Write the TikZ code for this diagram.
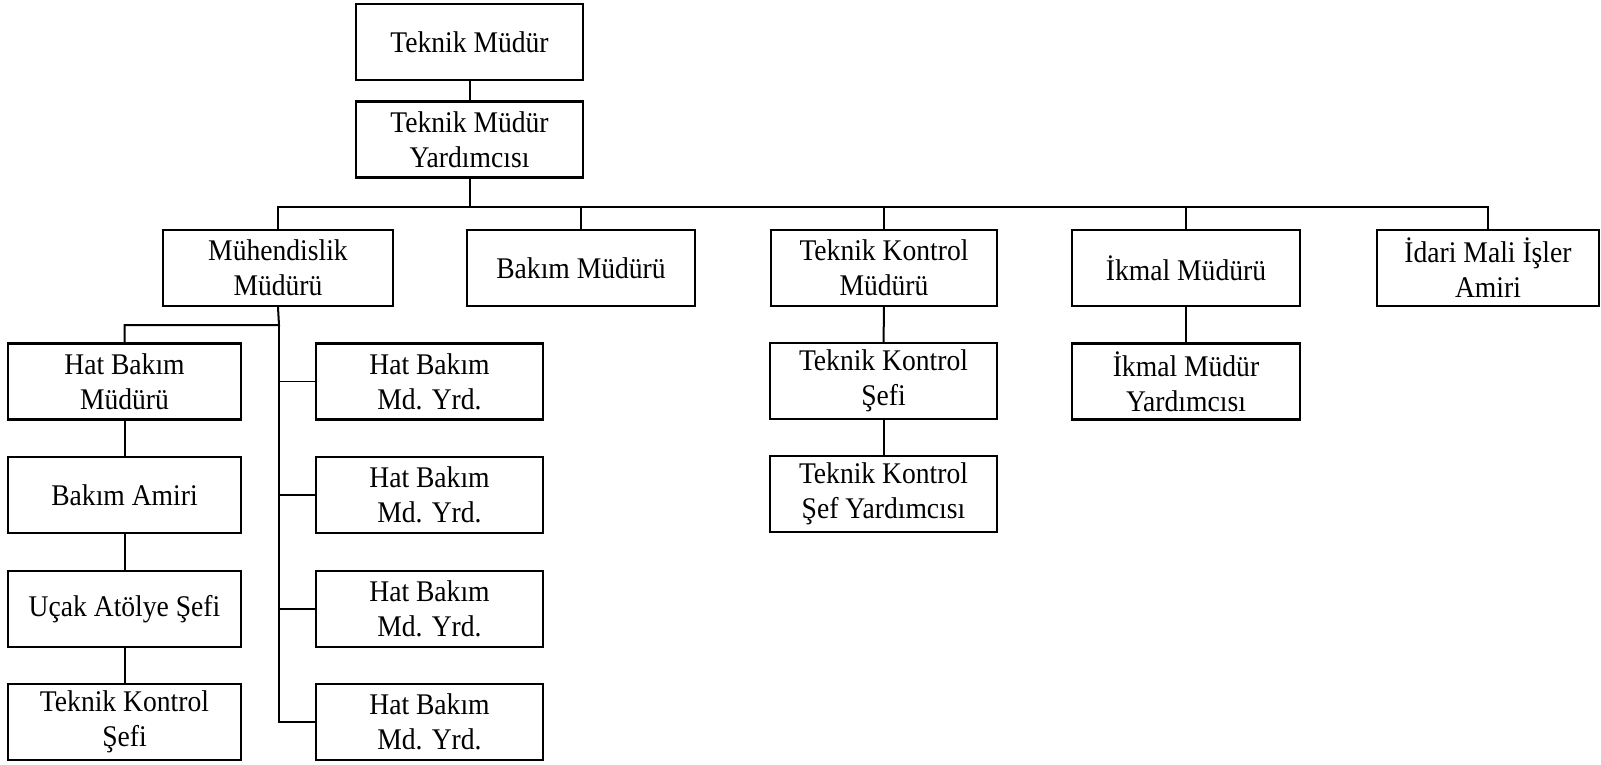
\documentclass[tikz,border=0pt]{standalone}
\usepackage{fontspec}
\setmainfont{Liberation Serif}[FakeStretch=0.92]
\begin{document}
\begin{tikzpicture}[x={(1pt,0)},y={(0,-1pt)},
  box/.style={draw=black,line width=2.3pt,align=center,inner sep=0pt,
    minimum height=76pt,font=\fontsize{30}{35}\selectfont},
  link/.style={draw=black,line width=2pt},
  thinlink/.style={draw=black,line width=1.4pt}]
\useasboundingbox (0,0) rectangle (1601,764);
% top of the hierarchy
\node[box,minimum width=227pt] (tm)  at (469.5,42)   {Teknik Müdür};
\node[box,minimum width=227pt] (tmy) at (469.5,139.5){Teknik Müdür\\Yardımcısı};
% department heads
\node[box,minimum width=230pt] (muh) at (278,268)  {Mühendislik\\Müdürü};
\node[box,minimum width=228pt] (bak) at (581,268)  {Bakım Müdürü};
\node[box,minimum width=226pt] (tkm) at (884,268)  {Teknik Kontrol\\Müdürü};
\node[box,minimum width=228pt] (ikm) at (1186,268) {İkmal Müdürü};
\node[box,minimum width=222pt] (idr) at (1488,268) {İdari Mali İşler\\Amiri};
% engineering: left chain
\node[box,minimum width=233pt] (hbm) at (124.5,381.5) {Hat Bakım\\Müdürü};
\node[box,minimum width=233pt] (ba)  at (124.5,495)   {Bakım Amiri};
\node[box,minimum width=233pt] (uas) at (124.5,609)   {Uçak Atölye Şefi};
\node[box,minimum width=233pt] (tks1) at (124.5,722)  {Teknik Kontrol\\Şefi};
% engineering: deputies
\node[box,minimum width=227pt] (y1) at (429.5,381.5) {Hat Bakım\\Md. Yrd.};
\node[box,minimum width=227pt] (y2) at (429.5,495)   {Hat Bakım\\Md. Yrd.};
\node[box,minimum width=227pt] (y3) at (429.5,609)   {Hat Bakım\\Md. Yrd.};
\node[box,minimum width=227pt] (y4) at (429.5,722)   {Hat Bakım\\Md. Yrd.};
% technical control chain
\node[box,minimum width=227pt] (tks) at (883.5,381)  {Teknik Kontrol\\Şefi};
\node[box,minimum width=227pt] (tksy) at (883.5,494) {Teknik Kontrol\\Şef Yardımcısı};
% supply chain
\node[box,minimum width=228pt] (iky) at (1186,381.5) {İkmal Müdür\\Yardımcısı};
% bus and junction points
\coordinate (bus) at (468,207);
\coordinate (mjoin) at (279,325);
% connectors
\draw[link] (tm) -- (tmy);
\draw[link] (tmy.south) -- (tmy.south |- bus);
\draw[link] (muh.north) -- (muh.north |- bus) -- (idr.north |- bus) -- (idr.north);
\draw[link] (bak.north) -- (bak.north |- bus);
\draw[link] (tkm.north) -- (tkm.north |- bus);
\draw[link] (ikm.north) -- (ikm.north |- bus);
\draw[link] (muh.south) -- (mjoin) -- (hbm.north |- mjoin) -- (hbm.north);
\draw[thinlink] (mjoin) -- (mjoin |- y4.west) -- (y4.west);
\draw[thinlink] (mjoin |- y1.west) -- (y1.west);
\draw[thinlink] (mjoin |- y2.west) -- (y2.west);
\draw[thinlink] (mjoin |- y3.west) -- (y3.west);
\draw[link] (hbm) -- (ba);
\draw[link] (ba) -- (uas);
\draw[link] (uas) -- (tks1);
\draw[link] (tkm) -- (tks);
\draw[link] (tks) -- (tksy);
\draw[link] (ikm) -- (iky);
\end{tikzpicture}
\end{document}
